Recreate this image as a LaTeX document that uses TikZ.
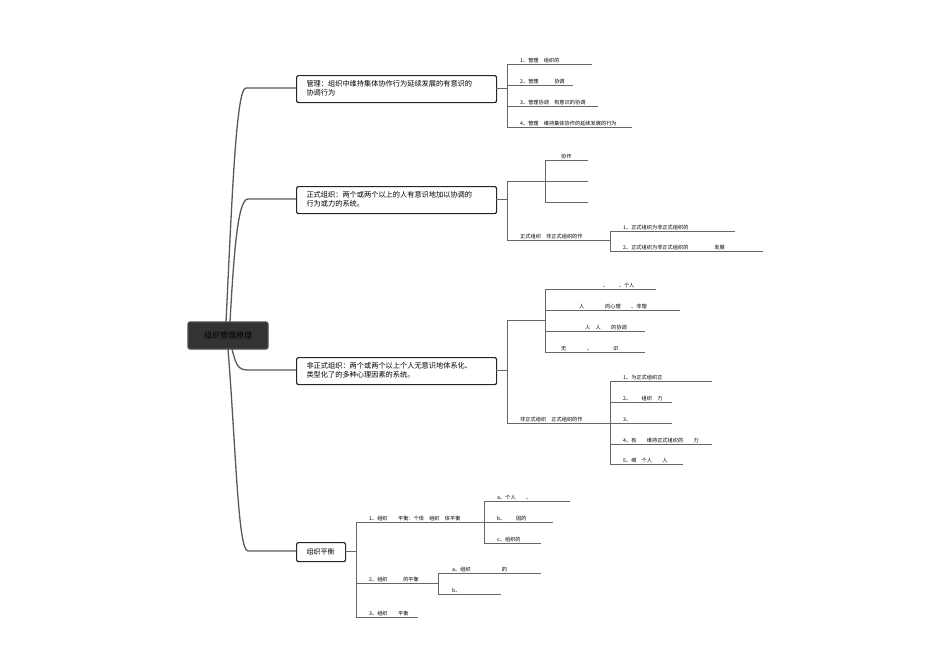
\documentclass[tikz,border=0pt]{standalone}
\usepackage{fontspec}
\setmainfont{Noto Sans CJK SC}
\begin{document}
\begin{tikzpicture}[x=1pt,y=-1pt,
 box/.style={draw=black!85,line width=1.2pt,rounded corners=2pt,fill=white,inner sep=0pt,align=left,anchor=north west},
 bt/.style={font=\fontsize{7.2}{9}\selectfont,align=left,anchor=west},
 ln/.style={draw=black!60,line width=0.6pt},
 trunk/.style={draw=black!65,line width=1.3pt},
 lf/.style={font=\fontsize{5.2}{6}\selectfont,anchor=south west,inner sep=1pt}]
\useasboundingbox (0,0) rectangle (950,669);
% trunk
\node[draw=black!70,fill=black!80,line width=1.2pt,rounded corners=2pt,minimum width=80pt,minimum height=27pt,font=\fontsize{8}{9}\selectfont,text=black] (c) at (228,335.5) {组织管理原理};
\coordinate (t1) at (296,88);
\coordinate (t2) at (296,199);
\coordinate (t3) at (296,370);
\coordinate (t4) at (296,551);
\draw[trunk] (226,322) .. controls (232,200) and (236,88) .. (246,88) -- (t1);
\draw[trunk] (230,322) .. controls (234,250) and (238,199) .. (248,199) -- (t2);
\draw[trunk] (232,349) .. controls (236,365) and (238,370) .. (248,370) -- (t3);
\draw[trunk] (228,349) .. controls (236,450) and (238,551) .. (248,551) -- (t4);
% boxes
\node[box,minimum width=200pt,minimum height=27pt] (b1) at (296,75) {};
\node[bt] at (303,88.5) {管理：组织中维持集体协作行为延续发展的有意识的\\协调行为};
\node[box,minimum width=200pt,minimum height=27pt] (b2) at (296,186) {};
\node[bt] at (303,199.5) {正式组织：两个或两个以上的人有意识地加以协调的\\行为或力的系统。};
\node[box,minimum width=200pt,minimum height=27pt] (b3) at (296,357) {};
\node[bt] at (303,370.5) {非正式组织：两个或两个以上个人无意识地体系化、\\类型化了的多种心理因素的系统。};
\node[box,minimum width=49pt,minimum height=19pt] (b4) at (296,542) {};
\node[font=\fontsize{7}{8}\selectfont] at (320.5,551.5) {组织平衡};
% box1
\draw[ln] (496,88)--(507,88) (507,64)--(507,127);
\draw[ln] (507,64)--(592,64) (507,85)--(573,85) (507,106)--(598,106) (507,127)--(632,127);
\node[lf] at (519,64) {1、管理　组织的};
\node[lf] at (519,85) {2、管理　　　协调};
\node[lf] at (519,106) {3、管理协调　有意识的协调};
\node[lf] at (519,127) {4、管理　维持集体协作的延续发展的行为};
% box2
\draw[ln] (496,199)--(507,199) (507,181)--(507,240);
\draw[ln] (507,181)--(545,181) (545,160)--(545,202);
\draw[ln] (545,160)--(588,160) (545,181)--(588,181) (545,202)--(588,202);
\node[lf] at (560,160) {协作};
\draw[ln] (507,240)--(610,240) (610,231)--(610,251) (610,231)--(735,231) (610,251)--(763,251);
\node[lf] at (519,240) {正式组织　非正式组织的作};
\node[lf] at (622,231) {1、正式组织为非正式组织的};
\node[lf] at (622,251) {2、正式组织为非正式组织的　　　　　发展};
% box3
\draw[ln] (496,370)--(507,370) (507,320)--(507,423);
\draw[ln] (507,320)--(545,320) (545,289)--(545,352);
\draw[ln] (545,289)--(656,289) (545,310)--(680,310) (545,331)--(645,331) (545,352)--(645,352);
\node[lf] at (602,289) {、　　、个人};
\node[lf] at (578,310) {人　　　　的心理　　、非理};
\node[lf] at (584,331) {人　人　　的协调};
\node[lf] at (560,352) {无　　　　、　　　　识};
\draw[ln] (507,423)--(610,423) (610,381)--(610,464);
\draw[ln] (610,381)--(712,381) (610,402)--(672,402) (610,423)--(672,423) (610,444)--(712,444) (610,464)--(683,464);
\node[lf] at (519,423) {非正式组织　正式组织的作};
\node[lf] at (622,381) {1、为正式组织正};
\node[lf] at (622,402) {2、　　组织　力};
\node[lf] at (622,423) {3、};
\node[lf] at (622,444) {4、有　　维持正式组织的　　力};
\node[lf] at (622,464) {5、维　个人　　人};
% box4
\draw[ln] (345,551)--(356,551) (356,522)--(356,617);
\draw[ln] (356,522)--(484,522) (484,501)--(484,543);
\draw[ln] (484,501)--(570,501) (484,522)--(553,522) (484,543)--(541,543);
\node[lf] at (368,522) {1、组织　　平衡：个体　组织　体平衡};
\node[lf] at (496,501) {a、个人　　、};
\node[lf] at (496,522) {b、　　因的};
\node[lf] at (496,543) {c、组织的};
\draw[ln] (356,583)--(438,583) (438,573)--(438,594) (438,573)--(541,573) (438,594)--(501,594);
\node[lf] at (368,583) {2、组织　　　的平衡};
\node[lf] at (451,573) {a、组织　　　　　　的};
\node[lf] at (451,594) {b、};
\draw[ln] (356,617)--(418,617);
\node[lf] at (368,617) {3、组织　　平衡};
\end{tikzpicture}
\end{document}
